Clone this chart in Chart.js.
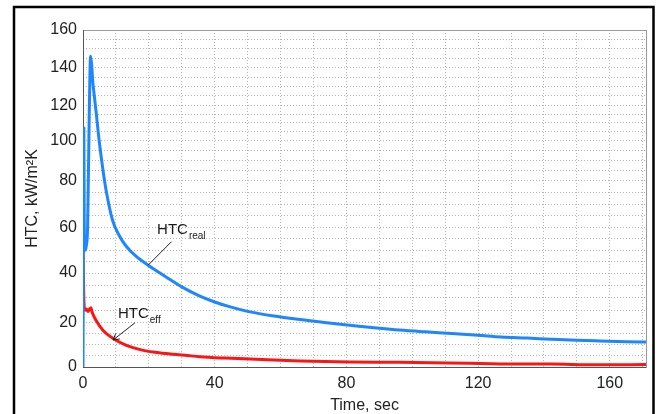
<!DOCTYPE html>
<html>
<head>
<meta charset="utf-8">
<script src="https://cdn.jsdelivr.net/npm/chart.js@4.4.1/dist/chart.umd.min.js"></script>
<style>
  html, body { margin: 0; padding: 0; background: #ffffff; }
  #wrap { width: 660px; height: 414px; position: relative; }
</style>
</head>
<body>
<div id="wrap"><canvas id="c" width="660" height="414"></canvas></div>
<script>
// ---- data ----
const timeReal = [0, 0.25, 0.4, 0.6, 1.0, 1.4, 1.9, 2.3, 2.6, 3.0, 3.5, 4.0, 4.9, 6.0, 7.0, 9.0, 11, 13, 16, 20, 25, 30, 35, 40, 45, 50, 58, 66, 74, 81, 90, 96, 104, 112, 120, 127, 135, 142, 150, 157, 165, 171];
const htcReal  = [0, 107, 55, 50, 52, 60, 115, 146, 142, 132, 124, 116, 100, 86, 76, 63, 56.5, 52, 47.5, 43.2, 38.6, 34.4, 31.0, 28.3, 26.2, 24.5, 22.6, 21.2, 19.9, 18.8, 17.4, 16.6, 15.8, 15.1, 14.3, 13.5, 13.0, 12.5, 12.0, 11.7, 11.4, 11.2];
const timeEff  = [0, 0.3, 0.6, 1.0, 1.5, 2.0, 2.4, 2.8, 4.0, 6.1, 9.1, 13, 18, 24.3, 31, 35.5, 43, 50.7, 58, 66, 81, 96, 111, 127, 142, 157, 171];
const htcEff   = [50, 28, 25, 25.5, 24.5, 25.5, 26, 24, 20.8, 16.4, 12.9, 9.8, 7.6, 6.2, 5.3, 4.6, 4.0, 3.6, 3.1, 2.7, 2.3, 2.1, 1.8, 1.4, 1.3, 1.0, 1.1];
const xTickLabels = [0, 40, 80, 120, 160];
const yTickLabels = [0, 20, 40, 60, 80, 100, 120, 140, 160];

// ---- the value axis of the reference is not evenly spaced: calibration of the y scale ----
const yWarpValues    = [0, 20, 40, 60, 80, 100, 120, 140, 160];
const yWarpFractions = [0, 0.1320, 0.2789, 0.4139, 0.5534, 0.6721, 0.7760, 0.8887, 1];

function warp(v) {
  if (v <= yWarpValues[0]) return yWarpFractions[0] + (v - yWarpValues[0]) * (yWarpFractions[1] - yWarpFractions[0]) / (yWarpValues[1] - yWarpValues[0]);
  for (let i = 1; i < yWarpValues.length; i++) {
    if (v <= yWarpValues[i]) {
      const a = yWarpValues[i - 1], b = yWarpValues[i];
      return yWarpFractions[i - 1] + (v - a) / (b - a) * (yWarpFractions[i] - yWarpFractions[i - 1]);
    }
  }
  const n = yWarpValues.length - 1;
  return yWarpFractions[n] + (v - yWarpValues[n]) * (yWarpFractions[n] - yWarpFractions[n - 1]) / (yWarpValues[n] - yWarpValues[n - 1]);
}
function unwarp(f) {
  for (let i = 1; i < yWarpFractions.length; i++) {
    if (f <= yWarpFractions[i] || i === yWarpFractions.length - 1) {
      const a = yWarpFractions[i - 1], b = yWarpFractions[i];
      return yWarpValues[i - 1] + (f - a) / (b - a) * (yWarpValues[i] - yWarpValues[i - 1]);
    }
  }
  return 0;
}

class WarpScale extends Chart.LinearScale {
  getPixelForValue(value) {
    if (value === null || value === undefined || isNaN(value)) return NaN;
    return this.getPixelForDecimal(warp(value));
  }
  getValueForPixel(pixel) {
    return unwarp(this.getDecimalForPixel(pixel));
  }
}
WarpScale.id = 'warp';
WarpScale.defaults = Chart.LinearScale.defaults;
Chart.register(WarpScale);

// ---- annotations (in data coordinates) ----
const annotations = [
  { text: 'HTC', sub: 'real', t: 22.5, v: 57.1, from: [26.9, 53.8], to: [19.8, 43.5], arrow: false },
  { text: 'HTC', sub: 'eff',  t: 10.6, v: 22.0, from: [15.8, 19.9], to: [9.1, 12.1], arrow: true }
];

const decorPlugin = {
  id: 'decor',
  beforeDraw(chart) {
    const ctx = chart.ctx;
    ctx.save();
    ctx.fillStyle = '#ffffff';
    ctx.fillRect(0, 0, chart.width, chart.height);
    ctx.restore();
  },
  beforeDatasetsDraw(chart) {
    const ctx = chart.ctx, a = chart.chartArea;
    ctx.save();
    ctx.strokeStyle = '#9a9a9a';
    ctx.lineWidth = 1;
    ctx.strokeRect(Math.round(a.left) + 0.5, Math.round(a.top) + 0.5, Math.round(a.right - a.left), Math.round(a.bottom - a.top));
    ctx.strokeStyle = '#555555';
    ctx.beginPath();
    ctx.moveTo(Math.round(a.left) + 0.5, a.top);
    ctx.lineTo(Math.round(a.left) + 0.5, a.bottom);
    ctx.moveTo(a.left, Math.round(a.bottom) + 0.5);
    ctx.lineTo(a.right, Math.round(a.bottom) + 0.5);
    ctx.stroke();
    ctx.restore();
  },
  afterDraw(chart) {
    const ctx = chart.ctx;
    const xs = chart.scales.x, ys = chart.scales.y;
    ctx.save();
    annotations.forEach(an => {
      const x1 = xs.getPixelForValue(an.from[0]), y1 = ys.getPixelForValue(an.from[1]);
      const x2 = xs.getPixelForValue(an.to[0]),   y2 = ys.getPixelForValue(an.to[1]);
      ctx.strokeStyle = '#222';
      ctx.lineWidth = 1;
      ctx.beginPath();
      ctx.moveTo(x1, y1);
      ctx.lineTo(x2, y2);
      ctx.stroke();
      if (an.arrow) {
        const ang = Math.atan2(y2 - y1, x2 - x1);
        ctx.beginPath();
        ctx.moveTo(x2 + Math.cos(ang + Math.PI - 0.5) * 7, y2 + Math.sin(ang + Math.PI - 0.5) * 7);
        ctx.lineTo(x2, y2);
        ctx.lineTo(x2 + Math.cos(ang + Math.PI + 0.5) * 7, y2 + Math.sin(ang + Math.PI + 0.5) * 7);
        ctx.stroke();
      }
      const tx = xs.getPixelForValue(an.t), ty = ys.getPixelForValue(an.v);
      ctx.fillStyle = '#1a1a1a';
      ctx.textBaseline = 'alphabetic';
      ctx.textAlign = 'left';
      ctx.font = '15px "Liberation Sans", Arial, sans-serif';
      ctx.fillText(an.text, tx, ty);
      const w = ctx.measureText(an.text).width;
      ctx.font = '10px "Liberation Sans", Arial, sans-serif';
      ctx.fillText(an.sub, tx + w + 1, ty + 5);
    });
    // outer black frame
    ctx.strokeStyle = '#000000';
    ctx.lineWidth = 2.5;
    ctx.strokeRect(14, 7, 639.5, 430);
    ctx.restore();
  }
};

const tickFont = { family: '"Liberation Sans", Arial, sans-serif', size: 16 };

new Chart(document.getElementById('c'), {
  type: 'line',
  data: {
    datasets: [
      {
        label: 'HTC real',
        data: timeReal.map((t, i) => ({ x: t, y: htcReal[i] })),
        borderColor: '#1e86ff',
        borderWidth: 3,
        pointRadius: 0,
        fill: false,
        cubicInterpolationMode: 'monotone'
      },
      {
        label: 'HTC eff',
        data: timeEff.map((t, i) => ({ x: t, y: htcEff[i] })),
        borderColor: '#ff1414',
        borderWidth: 3,
        pointRadius: 0,
        fill: false,
        cubicInterpolationMode: 'monotone'
      }
    ]
  },
  options: {
    responsive: false,
    animation: false,
    devicePixelRatio: 1,
    layout: { padding: { left: 15, right: 14, top: 30, bottom: 0 } },
    plugins: { legend: { display: false }, tooltip: { enabled: false } },
    scales: {
      x: {
        type: 'linear',
        min: 0,
        max: 171,
        afterFit(scale) { scale.height = 47; },
        ticks: {
          stepSize: 10,
          includeBounds: false,
          autoSkip: false,
          maxRotation: 0,
          padding: 7,
          color: '#222',
          font: tickFont,
          callback: v => xTickLabels.includes(v) ? String(v) : ''
        },
        grid: { color: '#b4b4b4', lineWidth: 1, drawTicks: false },
        border: { display: false, dash: [1, 2] },
        title: {
          display: true,
          text: 'Time, sec',
          color: '#222',
          font: { family: '"Liberation Sans", Arial, sans-serif', size: 16, lineHeight: 1 },
          padding: { top: 0, bottom: 0 }
        }
      },
      y: {
        type: 'warp',
        min: 0,
        max: 160,
        afterFit(scale) { scale.width = 68; },
        ticks: {
          stepSize: 5,
          autoSkip: false,
          padding: 6,
          color: '#222',
          font: tickFont,
          callback: v => yTickLabels.includes(v) ? String(v) : ''
        },
        grid: { color: '#b4b4b4', lineWidth: 1, drawTicks: false },
        border: { display: false, dash: [1, 2] },
        title: {
          display: true,
          text: 'HTC, kW/m²K',
          color: '#222',
          font: { family: '"Liberation Sans", Arial, sans-serif', size: 16, lineHeight: 1 },
          padding: { top: 10, bottom: 0 }
        }
      }
    }
  },
  plugins: [decorPlugin]
});
</script>
</body>
</html>
